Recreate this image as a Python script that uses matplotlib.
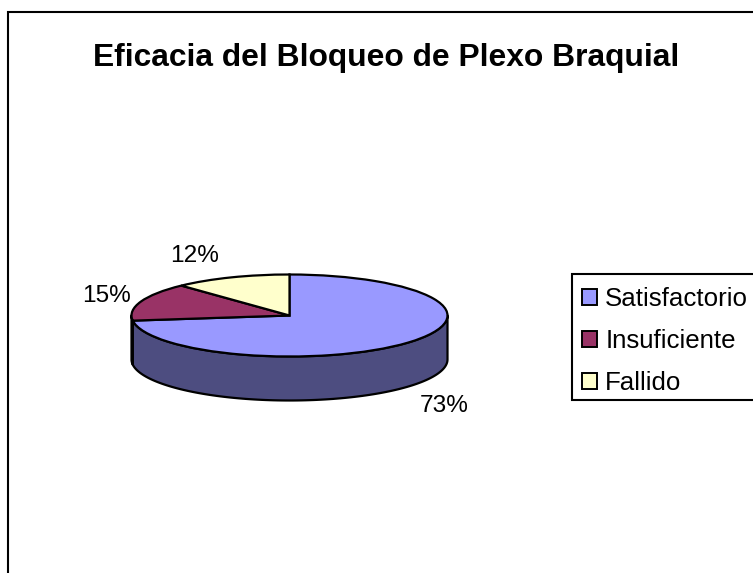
import numpy as np
import matplotlib
matplotlib.use("Agg")
import matplotlib.pyplot as plt
from matplotlib.patches import Rectangle, Patch

plt.rcParams['font.family'] = ['Liberation Sans', 'DejaVu Sans']

title = "Eficacia del Bloqueo de Plexo Braquial"
categories = ["Satisfactorio", "Insuficiente", "Fallido"]
values = [73, 15, 12]
labels = ["73%", "15%", "12%"]
colors = ["#9999FF", "#993366", "#FFFFCC"]
side_colors = ["#4D4D80", "#4D1A33", "#808066"]

W, H = 753, 573
fig = plt.figure(figsize=(W / 100, H / 100), dpi=100, facecolor="white")

# Outer chart frame (right and bottom edges fall outside the image)
fig.add_artist(Rectangle((8 / W, 1 - 12 / H - 600 / H), 800 / W, 600 / H,
                         transform=fig.transFigure, fill=False, ec="black", lw=1.5))
fig.text(386.5 / W, 1 - 58 / H, title, ha="center", va="center",
         fontsize=22.9, fontweight="bold", color="black")

# Pie axes spans exactly the top ellipse
cx, cy, rx, ry = 289.5, 315.5, 158, 41
depth = 44 / ry
ax = fig.add_axes([(cx - rx) / W, 1 - (cy + ry) / H, 2 * rx / W, 2 * ry / H])
ax.axis("off")

# Side wall, clockwise from 12 o'clock, only the front half (math angle 180..360)
start = 90.0
for v, sc in zip(values, side_colors):
    end = start - 360 * v / sum(values)
    a0, a1 = max(start, -180), max(end, -180)
    a0, a1 = min(a0, 0), min(a1, 0)
    if a0 > a1:
        t = np.radians(np.linspace(a0, a1, 120))
        x, y = np.cos(t), np.sin(t)
        ax.fill(np.r_[x, x[::-1]], np.r_[y, y[::-1] - depth], fc=sc, ec="black",
                lw=1.6, clip_on=False, joinstyle="round")
    start = end

wedges, _ = ax.pie(values, colors=colors, startangle=90, counterclock=False,
                   radius=1, center=(0, 0),
                   wedgeprops=dict(edgecolor="black", linewidth=1.6, clip_on=False))
ax.set_aspect("auto")
ax.set_xlim(-1, 1)
ax.set_ylim(-1, 1)

# Percent labels placed per slice
label_px = [(444, 406), (106, 296), (195, 256)]
for lab, (px, py) in zip(labels, label_px):
    fig.text(px / W, 1 - py / H, lab, ha="center", va="center", fontsize=17.6, color="black")

# Legend box (its right edge falls outside the image)
fig.add_artist(Rectangle((572 / W, 1 - 400 / H), 300 / W, 126 / H,
                         transform=fig.transFigure, fc="white", ec="black", lw=1.5))
handles = [Patch(fc=c, ec="black", lw=1.4) for c in colors]
leg = fig.legend(handles, categories, loc="upper left",
                 bbox_to_anchor=(572 / W, 1 - 277 / H), bbox_transform=fig.transFigure,
                 fontsize=18.6, frameon=False,
                 handlelength=0.58, handleheight=0.58, handletextpad=0.32,
                 labelspacing=0.69, borderpad=0.39, borderaxespad=0, labelcolor="black")

fig.savefig("out.png", dpi=100, facecolor="white")
